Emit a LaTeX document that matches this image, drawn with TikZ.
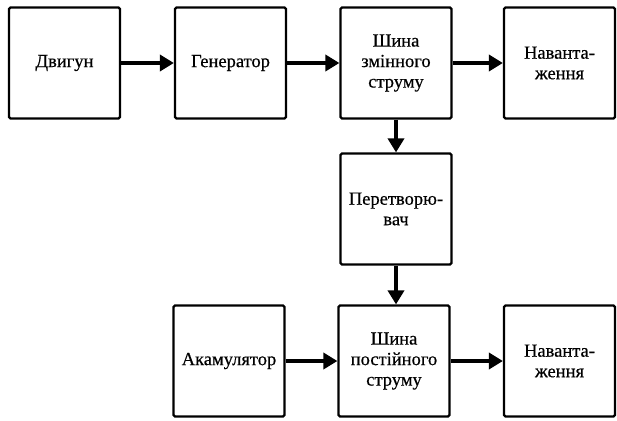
\documentclass[tikz,border=0pt]{standalone}
\usepackage{fontspec}
\setmainfont{Liberation Serif}[FakeBold=0.5]
\usetikzlibrary{arrows.meta}
\begin{document}
\begin{tikzpicture}[x=1pt,y=-1pt,
  blk/.style={draw, line width=2.2pt, rounded corners=1.5pt, minimum width=111pt, minimum height=111pt, align=center, inner sep=0pt, font=\fontsize{18.5}{20.5}\selectfont},
  conn/.style={line width=4.5pt, -{Triangle[length=14pt,width=16pt]}}]
\useasboundingbox (0,0) rectangle (617,420);
\node[blk] (dv) at (64.5,63) {Двигун};
\node[blk] (gen) at (230.5,63) {Генератор};
\node[blk] (szm) at (396,63) {Шина\\змінного\\струму};
\node[blk] (n1) at (559.5,63) {Наванта-\\ження};
\node[blk] (per) at (396,209) {Перетворю-\\вач};
\node[blk] (ak) at (229,361) {Акамулятор};
\node[blk] (spt) at (394,361) {Шина\\постійного\\струму};
\node[blk] (n2) at (559.5,361) {Наванта-\\ження};
\draw[conn] (dv) -- (gen);
\draw[conn] (gen) -- (szm);
\draw[conn] (szm) -- (n1);
\draw[conn] (szm) -- (per);
\draw[conn] (per) -- (per |- spt.north);
\draw[conn] (ak) -- (spt);
\draw[conn] (spt) -- (n2);
\end{tikzpicture}
\end{document}
